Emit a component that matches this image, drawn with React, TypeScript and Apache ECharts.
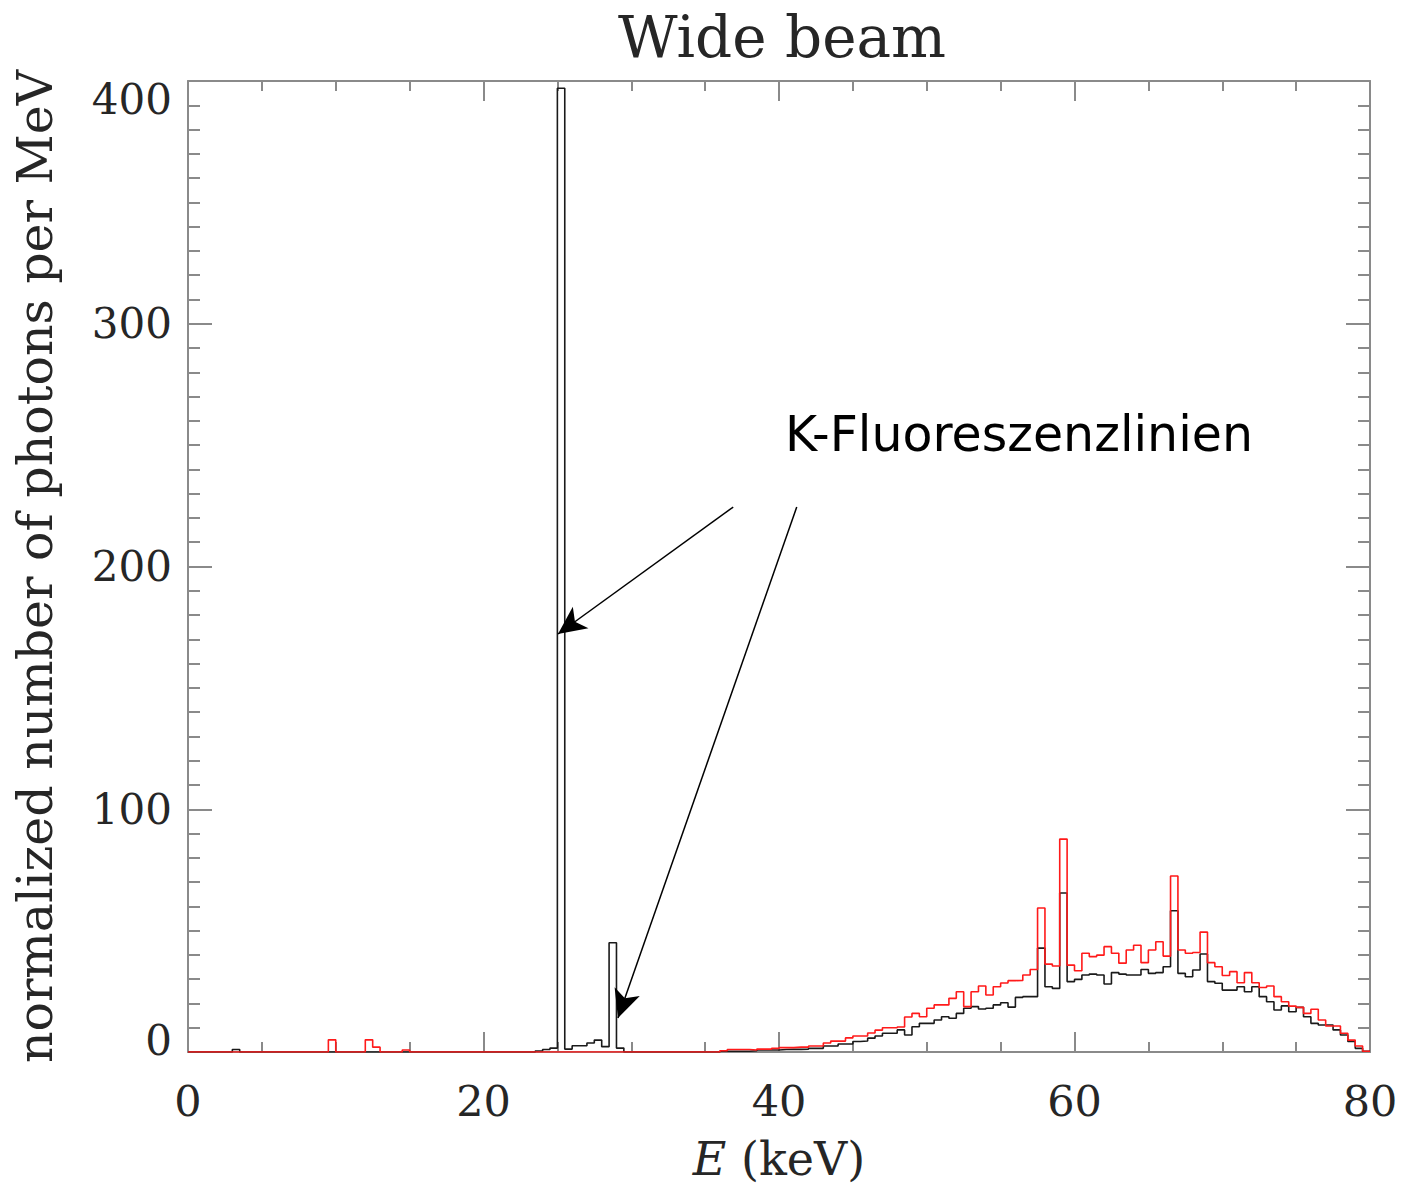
import React, { useEffect, useRef } from "react";
import * as echarts from "echarts";

// Histogram bin width in keV; bins start at 0 keV
const binWidth = 0.5;
const xMax = 80;

// Black spectrum (wide beam, unfiltered), 160 bins of 0.5 keV from 0 to 80 keV
const blackValues = [
  0, 0, 0, 0, 0, 0, 1, 0, 0, 0,
  0, 0, 0, 0, 0, 0, 0, 0, 0, 0,
  0, 0, 0, 0, 0, 0, 0, 0, 0, 0,
  0, 0, 0, 0, 0, 0, 0, 0, 0, 0,
  0, 0, 0, 0, 0, 0, 0, 0.4, 1, 1.6,
  397, 1.2, 2.6, 2.6, 3.7, 4.9, 2.2, 45, 1.6, 0,
  0, 0, 0, 0, 0, 0, 0, 0, 0, 0,
  0, 0, 0.3, 0.3, 0.3, 0.3, 0.5, 0.8, 0.8, 0.8,
  1, 1.1, 1.1, 1.2, 1.5, 1.5, 2.5, 2.5, 3.3, 3.3,
  4.3, 4.5, 5.7, 6.6, 7.7, 7.7, 9.1, 7, 10.4, 11.8,
  11.8, 13.2, 14.5, 13.9, 15.9, 18, 18.7, 17.7, 18, 19.4,
  20.3, 18.5, 22.5, 22.8, 22.8, 42.8, 26.9, 26.2, 65.5, 29,
  29.9, 31.7, 32.1, 31.7, 28, 32.7, 32.1, 31.7, 31.7, 34,
  32.4, 32.7, 35.1, 58.2, 32.4, 31, 33.8, 40.4, 29, 28.3,
  25.5, 25.5, 26.9, 24.8, 26.9, 22.8, 20.7, 17.3, 19, 16.6,
  18.4, 14.5, 11.8, 11.1, 11.1, 9.1, 7, 4.3, 1.5, 0.3,
];

// Red spectrum, same binning
const redValues = [
  0, 0, 0, 0, 0, 0, 0, 0, 0, 0,
  0, 0, 0, 0, 0, 0, 0, 0, 0, 5,
  0, 0, 0, 0, 5, 2, 0, 0, 0, 0.8,
  0, 0, 0, 0, 0, 0, 0, 0, 0, 0,
  0, 0, 0, 0, 0, 0, 0, 0, 0, 0,
  0, 0, 0, 0, 0, 0, 0, 0, 0, 0,
  0, 0, 0, 0, 0, 0, 0, 0, 0, 0,
  0, 0, 0.5, 1, 1, 1, 0.8, 1.2, 1.2, 1.5,
  1.8, 1.8, 2, 2, 2.5, 2.5, 3.7, 4.5, 4.5, 5.8,
  6.6, 6.6, 7.8, 9, 10, 10, 10.3, 14.4, 15.9, 14.5,
  18, 19.4, 19.4, 22.1, 24.8, 18.7, 24.8, 27.2, 23.5, 26.9,
  28.4, 29.4, 29.5, 31.7, 34, 59.3, 36.2, 35.4, 87.7, 35.8,
  33.5, 40.7, 39.3, 39.9, 43.4, 40.7, 36.6, 42, 44, 36.8,
  42, 45.4, 39.5, 72.5, 42, 40.7, 41, 49.4, 36.8, 35.1,
  31.5, 33.1, 28.5, 32.7, 28.5, 26.6, 27.2, 22.8, 20.7, 18.9,
  18.4, 15.9, 17.6, 13.2, 10.7, 10.7, 7.7, 4.9, 2.5, 0.3,
];

// Annotation arrows (data coordinates: [keV, photons]) start -> tip
const arrowLines = [
  [[36.9, 224.5], [25.04, 172.2]],
  [[41.2, 224.5], [29.1, 14.0]],
];
const annotationText = "K-Fluoreszenzlinien";

const titleText = "Wide beam";
const yAxisTitle = "normalized number of photons per MeV";

function toSteps(values: number[]) {
  const pts: number[][] = values.map((v, i) => [i * binWidth, v]);
  pts.push([xMax, values[values.length - 1]]);
  return pts;
}

const serif = "DejaVu Serif";
const axisGrey = "#8a8a8a";
const textColor = "#262626";

export default function App() {
  const ref = useRef<HTMLDivElement>(null);
  useEffect(() => {
    if (!ref.current) return;
    const chart = echarts.init(ref.current, null, { renderer: "svg" });
    const baseX = {
      type: "value" as const,
      min: 0,
      max: xMax,
      interval: 20,
      axisLine: { show: true, onZero: false, lineStyle: { color: axisGrey, width: 2 } },
      axisTick: { show: true, inside: true, length: 20, lineStyle: { color: axisGrey, width: 2 } },
      minorTick: { show: true, splitNumber: 4, length: 10, lineStyle: { color: axisGrey, width: 2 } },
      splitLine: { show: false },
      minorSplitLine: { show: false },
    };
    const baseY = {
      type: "value" as const,
      min: 0,
      max: 400,
      interval: 100,
      axisLine: { show: true, onZero: false, lineStyle: { color: axisGrey, width: 2 } },
      axisTick: { show: true, inside: true, length: 24, lineStyle: { color: axisGrey, width: 2 } },
      minorTick: { show: true, splitNumber: 10, length: 12, lineStyle: { color: axisGrey, width: 2 } },
      splitLine: { show: false },
      minorSplitLine: { show: false },
    };
    const option: any = {
      animation: false,
      backgroundColor: "#ffffff",
      title: {
        text: titleText,
        left: 777,
        textAlign: "center",
        top: 3,
        textStyle: { fontFamily: serif, fontSize: 58, fontWeight: "normal", color: textColor },
      },
      grid: { left: 188, right: 37, top: 81, bottom: 137, containLabel: false },
      xAxis: [
        {
          ...baseX,
          position: "bottom",
          name: "{i|E} (keV)",
          nameLocation: "middle",
          nameGap: 84,
          nameTextStyle: {
            fontFamily: serif,
            fontSize: 46,
            color: textColor,
            rich: {
              i: { fontFamily: serif, fontSize: 46, fontStyle: "italic", color: textColor },
            },
          },
          axisLabel: { show: true, margin: 27, fontFamily: serif, fontSize: 43, color: textColor },
        },
        { ...baseX, position: "top", axisLabel: { show: false } },
      ],
      yAxis: [
        {
          ...baseY,
          position: "left",
          name: yAxisTitle,
          nameLocation: "middle",
          nameGap: 128,
          nameRotate: 90,
          nameTextStyle: { fontFamily: serif, fontSize: 49, color: textColor },
          axisLabel: {
            show: true,
            margin: 16,
            color: textColor,
            fontFamily: serif,
            fontSize: 42,
            formatter: (v: number) => (v === 400 ? "{t|400}" : v === 0 ? "{b|0}" : String(v)),
            rich: {
              t: { fontFamily: serif, fontSize: 42, color: textColor, padding: [36, 0, 0, 0] },
              b: { fontFamily: serif, fontSize: 42, color: textColor, padding: [0, 0, 24, 0] },
            },
          },
        },
        { ...baseY, position: "right", axisLabel: { show: false } },
      ],
      series: [
        {
          type: "line",
          name: "black",
          step: "end",
          data: toSteps(blackValues),
          showSymbol: false,
          symbol: "none",
          lineStyle: { color: "#1a1a1a", width: 1.6 },
          z: 2,
          markLine: {
            silent: true,
            symbol: ["none", "arrow"],
            symbolSize: [20, 28],
            label: { show: false },
            lineStyle: { color: "#000", width: 1.5, type: "solid" },
            data: arrowLines.map((l) => [{ coord: l[0] }, { coord: l[1] }]),
          },
        },
        {
          type: "line",
          name: "red",
          step: "end",
          data: toSteps(redValues),
          showSymbol: false,
          symbol: "none",
          lineStyle: { color: "#ff1a1a", width: 1.6 },
          z: 3,
        },
      ],
      graphic: [
        {
          type: "text",
          left: 785,
          top: 410,
          style: {
            text: annotationText,
            fontFamily: "DejaVu Sans",
            fontSize: 49,
            fill: "#000",
          },
        },
      ],
    };
    chart.setOption(option);
    return () => chart.dispose();
  }, []);
  return (
    <div
      ref={ref}
      style={{ position: "fixed", left: 0, top: 0, width: 1407, height: 1189, background: "#fff" }}
    />
  );
}
